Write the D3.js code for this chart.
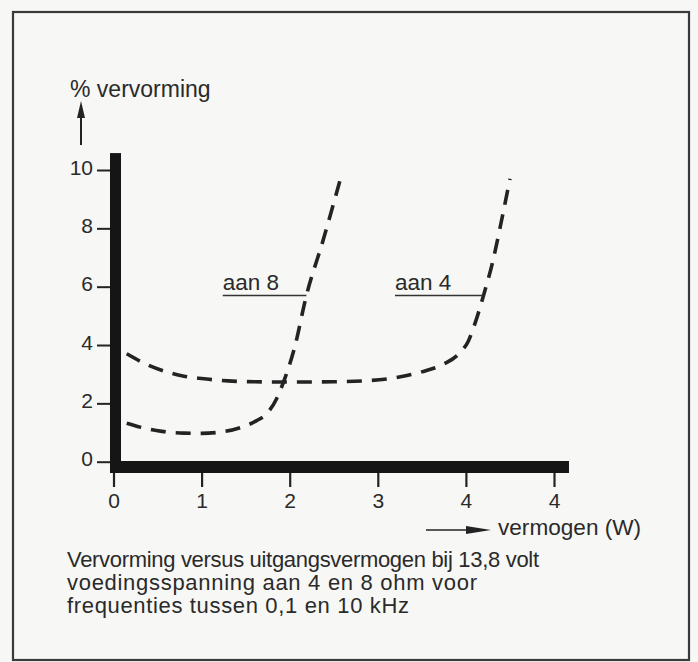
<!DOCTYPE html>
<html>
<head>
<meta charset="utf-8">
<script src="https://cdn.jsdelivr.net/npm/d3@7/dist/d3.min.js"></script>
<style>
  html, body { margin: 0; padding: 0; background: #f7f7f5; }
  svg { display: block; }
  text { font-family: "Liberation Sans", Arial, Helvetica, sans-serif; fill: #2a2a2a; }
</style>
</head>
<body>
<svg id="chart" width="698" height="662"></svg>
<script>
// Distortion (%) versus output power (W), 13.8 V supply, 4 and 8 ohm loads
const power8 = [0.15, 0.35, 0.55, 0.8, 1.0, 1.2, 1.45, 1.62, 1.75, 1.85, 1.95, 2.05, 2.19, 2.38, 2.59];
const dist8  = [1.32, 1.15, 1.04, 0.98, 0.97, 1.01, 1.18, 1.40, 1.68, 2.15, 2.90, 3.85, 5.70, 7.60, 9.85];

const power4 = [0.15, 0.4, 0.6, 0.8, 1.0, 1.3, 1.6, 2.0, 2.5, 2.9, 3.2, 3.5, 3.75, 3.92, 4.03, 4.11, 4.2, 4.3, 4.4, 4.5];
const dist4  = [3.70, 3.30, 3.08, 2.93, 2.85, 2.77, 2.74, 2.73, 2.74, 2.78, 2.88, 3.08, 3.35, 3.70, 4.15, 4.80, 5.70, 6.80, 8.20, 9.70];

const yTicks = [0, 2, 4, 6, 8, 10];
const xTicks = [0, 1, 2, 3, 4, 5];
const xTickLabels = ["0", "1", "2", "3", "4", "4"];

const seriesLabels = ["aan 8", "aan 4"];
const leaderLevel = [5.7, 5.7];     // % at which each label's leader meets its curve
const leaderStart = [1.24, 3.195];  // W where each leader (and label) starts

const yTitle = "% vervorming";
const xTitle = "vermogen (W)";
const caption = [
  "Vervorming versus uitgangsvermogen bij 13,8 volt",
  "voedingsspanning aan 4 en 8 ohm voor",
  "frequenties tussen 0,1 en 10 kHz"
];
const captionWidths = [472, 410, 342];

const svg = d3.select("#chart");
const ink = "#232323";

const x = d3.scaleLinear().domain([0, 5]).range([113.5, 554]);
const y = d3.scaleLinear().domain([0, 10]).range([461.7, 170]);

// outer frame
svg.append("rect")
  .attr("x", 13).attr("y", 12).attr("width", 676).attr("height", 648)
  .attr("fill", "none").attr("stroke", "#3a3a3a").attr("stroke-width", 2.2);

// y axis ticks + labels
const yAxis = svg.append("g")
  .attr("transform", "translate(110,0)")
  .call(d3.axisLeft(y).tickValues(yTicks).tickSize(13).tickPadding(4).tickFormat(d3.format("d")));
yAxis.select(".domain").remove();
yAxis.selectAll(".tick line").attr("stroke", ink).attr("stroke-width", 2);
yAxis.selectAll(".tick text")
  .attr("dy", "0.2em")
  .style("font-size", "21px").style("font-family", "'Liberation Sans', Arial, sans-serif")
  .attr("fill", "#2a2a2a");

// x axis ticks + labels
const xAxis = svg.append("g")
  .attr("transform", "translate(0,473)")
  .call(d3.axisBottom(x).tickValues(xTicks).tickSize(14).tickPadding(6)
    .tickFormat((d, i) => xTickLabels[i]));
xAxis.select(".domain").remove();
xAxis.selectAll(".tick line").attr("stroke", ink).attr("stroke-width", 2.2);
xAxis.selectAll(".tick text")
  .style("font-size", "21px").style("font-family", "'Liberation Sans', Arial, sans-serif")
  .attr("fill", "#2a2a2a");

// heavy axis bars
const yTop = 10.58, xRight = 5.17;
svg.append("rect")
  .attr("x", 110).attr("y", y(yTop))
  .attr("width", 11).attr("height", 473 - y(yTop))
  .attr("fill", "#151515");
svg.append("rect")
  .attr("x", 110).attr("y", y(0) - 0.7)
  .attr("width", x(xRight) - 110).attr("height", 12)
  .attr("fill", "#151515");

// curves
const line = d3.line()
  .x(d => x(d[0])).y(d => y(d[1]))
  .curve(d3.curveMonotoneX);

const series = [d3.zip(power8, dist8), d3.zip(power4, dist4)];
svg.append("g").selectAll("path")
  .data(series)
  .join("path")
  .attr("d", line)
  .attr("fill", "none")
  .attr("stroke", ink)
  .attr("stroke-width", 3.6)
  .attr("stroke-dasharray", "15 10")
  .attr("stroke-linecap", "butt");

// series labels with leaders to their curves
series.forEach((pts, i) => {
  const lvl = leaderLevel[i];
  const k = pts.findIndex(p => p[1] === lvl);
  const xEnd = pts[k][0];
  svg.append("line")
    .attr("x1", x(leaderStart[i])).attr("x2", x(xEnd))
    .attr("y1", y(lvl)).attr("y2", y(lvl))
    .attr("stroke", "#333").attr("stroke-width", 1.6);
  svg.append("text")
    .attr("x", x(leaderStart[i])).attr("y", y(lvl) - 5.5)
    .style("font-size", "22.5px")
    .text(seriesLabels[i]);
});

// y title with arrow
svg.append("text").attr("x", 70).attr("y", 97).style("font-size", "23px").text(yTitle);
svg.append("line").attr("x1", 81).attr("x2", 81).attr("y1", 145).attr("y2", 112)
  .attr("stroke", ink).attr("stroke-width", 2);
svg.append("path").attr("d", "M81,101 L77,118 L85,118 Z").attr("fill", ink);

// x title with arrow
svg.append("line").attr("x1", 426).attr("x2", 470).attr("y1", 530).attr("y2", 530)
  .attr("stroke", ink).attr("stroke-width", 1.6);
svg.append("path").attr("d", "M491,530 L466,526 L466,534 Z").attr("fill", ink);
svg.append("text").attr("x", 498).attr("y", 535).style("font-size", "22.6px").text(xTitle);

// caption
svg.append("g").selectAll("text")
  .data(caption)
  .join("text")
  .attr("x", 67)
  .attr("y", (d, i) => 567 + i * 23.2)
  .style("font-size", "22px")
  .attr("textLength", (d, i) => captionWidths[i])
  .attr("lengthAdjust", "spacing")
  .text(d => d);
</script>
</body>
</html>
